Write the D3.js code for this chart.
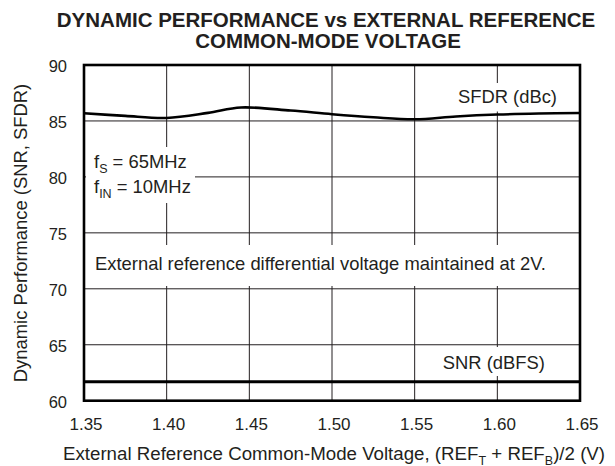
<!DOCTYPE html>
<html><head><meta charset="utf-8">
<script src="https://cdn.jsdelivr.net/npm/d3@7"></script>
<style>
html,body{margin:0;padding:0;background:#fff;}
svg text{font-family:"Liberation Sans",Arial,Helvetica,sans-serif;fill:#231f20;}
</style></head>
<body><svg id="c" width="615" height="466"></svg>
<script>
const xTicks = [1.35, 1.40, 1.45, 1.50, 1.55, 1.60, 1.65];
const yTicks = [60, 65, 70, 75, 80, 85, 90];
const sfdrX = [1.35, 1.375, 1.40, 1.425, 1.445, 1.475, 1.50, 1.525, 1.55, 1.575, 1.60, 1.625, 1.65];
const sfdrY = [85.69, 85.45, 85.27, 85.72, 86.2, 85.93, 85.6, 85.33, 85.15, 85.4, 85.57, 85.66, 85.71];
const snrX = [1.35, 1.65];
const snrY = [61.7, 61.7];

const svg = d3.select("#c");
const L = 84, R = 580, T = 65, B = 400.7;
const FS = 18.4;
const x = d3.scaleLinear().domain([1.35, 1.65]).range([L, R]);
const y = d3.scaleLinear().domain([60, 90]).range([B, T]);

// grid
const g = svg.append("g");
g.selectAll(".vg").data(xTicks.slice(1, -1)).enter().append("line")
  .attr("x1", d => x(d)).attr("x2", d => x(d)).attr("y1", T).attr("y2", B)
  .attr("stroke", "#231f20").attr("stroke-width", 1);
g.selectAll(".hg").data(yTicks.slice(1, -1)).enter().append("line")
  .attr("y1", d => y(d)).attr("y2", d => y(d)).attr("x1", L).attr("x2", R)
  .attr("stroke", "#231f20").attr("stroke-width", 1);

// white boxes behind annotations
const boxes = [[86, 147, 195, 203], [88, 245, 577, 286], [446, 83, 572, 111.5], [430, 347, 560, 376]];
svg.selectAll(".bx").data(boxes).enter().append("rect")
  .attr("x", d => d[0]).attr("y", d => d[1]).attr("width", d => d[2] - d[0]).attr("height", d => d[3] - d[1])
  .attr("fill", "#fff");

// lines
const line = d3.line().x(d => x(d[0])).y(d => y(d[1])).curve(d3.curveCatmullRom.alpha(0.5));
svg.append("path").datum(sfdrX.map((v, i) => [v, sfdrY[i]])).attr("d", line)
  .attr("fill", "none").attr("stroke", "#000").attr("stroke-width", 2.6);
svg.append("path").datum(snrX.map((v, i) => [v, snrY[i]])).attr("d", d3.line().x(d => x(d[0])).y(d => y(d[1])))
  .attr("fill", "none").attr("stroke", "#000").attr("stroke-width", 3);

// frame
svg.append("rect").attr("x", L).attr("y", T).attr("width", R - L).attr("height", B - T)
  .attr("fill", "none").attr("stroke", "#000").attr("stroke-width", 2.6);

// axes (labels only)
const xa = svg.append("g").attr("transform", `translate(1.5,${B})`)
  .call(d3.axisBottom(x).tickValues(xTicks).tickFormat(d3.format(".2f")).tickSize(0).tickPadding(17));
xa.select(".domain").remove();
xa.selectAll("text").attr("font-size", 17).attr("font-family", null);
const ya = svg.append("g").attr("transform", `translate(${L},1.5)`)
  .call(d3.axisLeft(y).tickValues(yTicks).tickSize(0).tickPadding(17));
ya.select(".domain").remove();
ya.selectAll("text").attr("font-size", 16.5).attr("font-family", null);

// title
svg.append("text").attr("x", 326).attr("y", 27.3).attr("text-anchor", "middle")
  .attr("font-size", 20.5).attr("font-weight", "bold").text("DYNAMIC PERFORMANCE vs EXTERNAL REFERENCE");
svg.append("text").attr("x", 328).attr("y", 48.3).attr("text-anchor", "middle")
  .attr("font-size", 20.5).attr("font-weight", "bold").text("COMMON-MODE VOLTAGE");

// axis titles
const xt = svg.append("text").attr("x", 63).attr("y", 460).attr("font-size", 18.7);
xt.append("tspan").text("External Reference Common-Mode Voltage, (REF");
xt.append("tspan").attr("dy", 4.5).attr("font-size", 12.5).text("T");
xt.append("tspan").attr("dy", -4.5).text(" + REF");
xt.append("tspan").attr("dy", 4.5).attr("font-size", 12.5).text("B");
xt.append("tspan").attr("dy", -4.5).text(")/2 (V)");

svg.append("text").attr("transform", "translate(27,233) rotate(-90)").attr("text-anchor", "middle")
  .attr("font-size", FS).text("Dynamic Performance (SNR, SFDR)");

// annotations
svg.append("text").attr("x", 557).attr("y", 103.3).attr("text-anchor", "end").attr("font-size", FS).text("SFDR (dBc)");
svg.append("text").attr("x", 545).attr("y", 369).attr("text-anchor", "end").attr("font-size", FS).text("SNR (dBFS)");
svg.append("text").attr("x", 95).attr("y", 270).attr("font-size", FS).text("External reference differential voltage maintained at 2V.");
const f1 = svg.append("text").attr("x", 94).attr("y", 168.3).attr("font-size", FS);
f1.append("tspan").text("f");
f1.append("tspan").attr("dy", 4.5).attr("font-size", 12.5).text("S");
f1.append("tspan").attr("dy", -4.5).text(" = 65MHz");
const f2 = svg.append("text").attr("x", 94).attr("y", 193.3).attr("font-size", FS);
f2.append("tspan").text("f");
f2.append("tspan").attr("dy", 4.5).attr("font-size", 12.5).text("IN");
f2.append("tspan").attr("dy", -4.5).text(" = 10MHz");
</script></body></html>
